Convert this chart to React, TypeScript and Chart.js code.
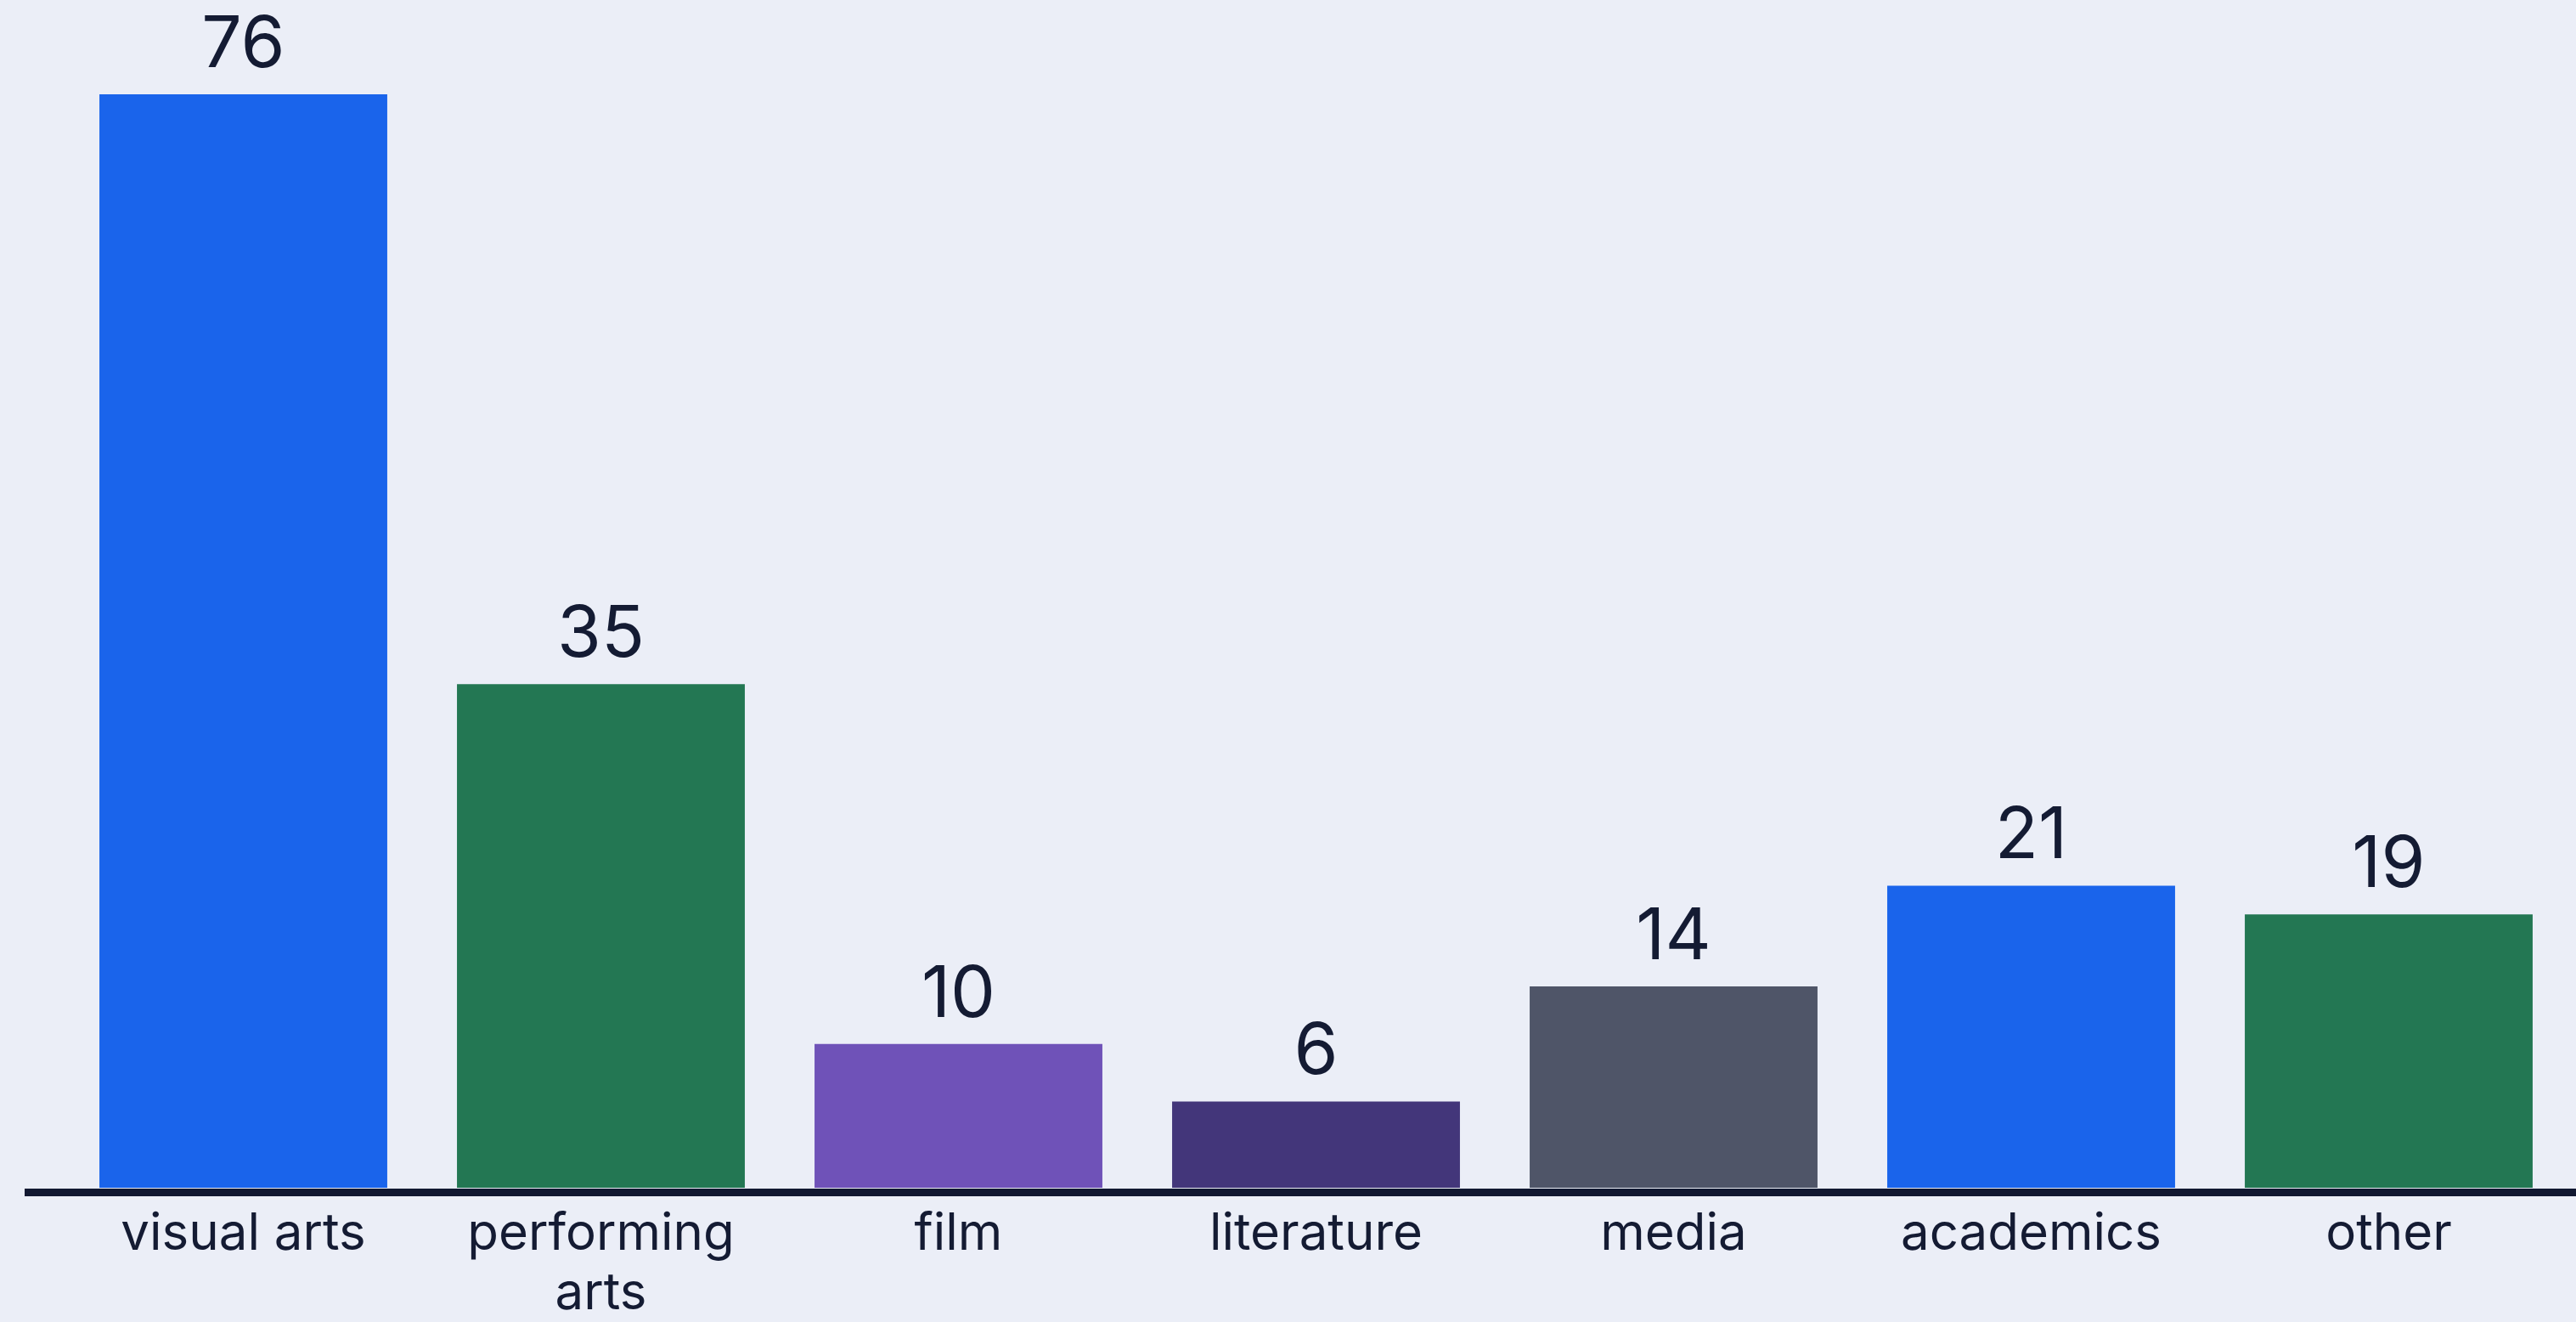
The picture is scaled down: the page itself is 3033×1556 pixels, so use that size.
import React, { useEffect, useRef } from "react";
import { Chart, registerables } from "chart.js";

Chart.register(...registerables);

const categories: (string | string[])[] = [
  "visual arts",
  ["performing", "arts"],
  "film",
  "literature",
  "media",
  "academics",
  "other",
];
const values: number[] = [76, 35, 10, 6, 14, 21, 19];
const barColors: string[] = [
  "#1A64EB",
  "#237753",
  "#6F52B8",
  "#43367A",
  "#4F5568",
  "#1A64EB",
  "#237753",
];

const W = 3033;
const H = 1556;
const BG = "#EBEEF7";
const TEXT = "#141B33";

const valueLabelPlugin = {
  id: "valueLabels",
  afterDatasetsDraw(chart: any) {
    const ctx = chart.ctx;
    const meta = chart.getDatasetMeta(0);
    ctx.save();
    ctx.fillStyle = TEXT;
    ctx.font = '84px Inter, "Liberation Sans", sans-serif';
    ctx.textAlign = "center";
    ctx.textBaseline = "alphabetic";
    meta.data.forEach((bar: any, i: number) => {
      ctx.fillText(String(values[i]), bar.x, bar.y - 32);
    });
    ctx.restore();
  },
};

const axisLinePlugin = {
  id: "axisLine",
  afterDatasetsDraw(chart: any) {
    const ctx = chart.ctx;
    const y = chart.chartArea.bottom + 5.5;
    ctx.save();
    ctx.strokeStyle = "#111831";
    ctx.lineWidth = 9;
    ctx.beginPath();
    ctx.moveTo(29, y);
    ctx.lineTo(chart.width, y);
    ctx.stroke();
    ctx.restore();
  },
};

export default function App() {
  const ref = useRef<HTMLCanvasElement | null>(null);

  useEffect(() => {
    if (!ref.current) return;
    const chart = new Chart(ref.current, {
      type: "bar",
      data: {
        labels: categories,
        datasets: [
          {
            data: values,
            backgroundColor: barColors,
            borderWidth: 0,
            barPercentage: 0.805,
            categoryPercentage: 1,
          },
        ],
      },
      options: {
        animation: false,
        responsive: false,
        devicePixelRatio: 1,
        layout: { padding: { left: 76, right: 10, top: 111, bottom: 0 } },
        plugins: {
          legend: { display: false },
          tooltip: { enabled: false },
        },
        scales: {
          x: {
            grid: { display: false, drawTicks: false },
            border: { display: false },
            ticks: {
              color: TEXT,
              padding: 20,
              maxRotation: 0,
              autoSkip: false,
              font: { family: "Inter", size: 60, lineHeight: "70px" as any },
            },
            afterFit(scale: any) {
              scale.height = H - 1398;
            },
          },
          y: {
            display: false,
            min: 0,
            max: 76,
          },
        },
      },
      plugins: [valueLabelPlugin, axisLinePlugin],
    });
    return () => chart.destroy();
  }, []);

  return (
    <div
      style={{
        position: "fixed",
        left: 0,
        top: 0,
        width: W,
        height: H,
        background: BG,
        overflow: "hidden",
      }}
    >
      <canvas ref={ref} width={W} height={H} style={{ width: W, height: H, display: "block" }} />
    </div>
  );
}
